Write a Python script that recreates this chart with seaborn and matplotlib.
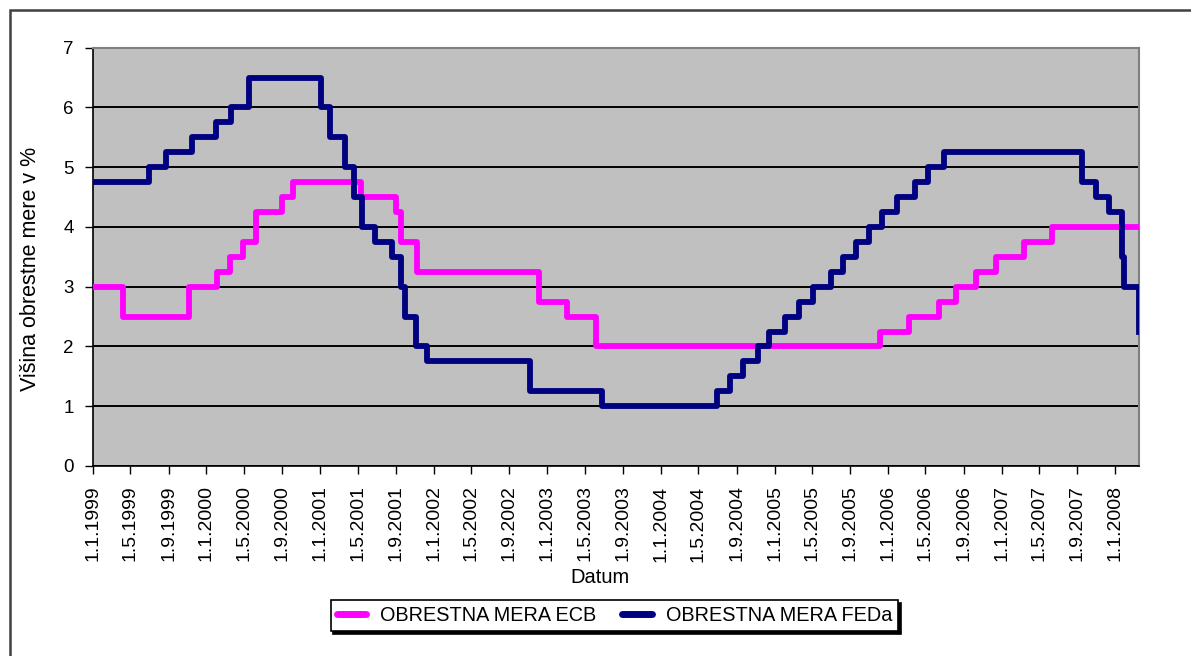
import matplotlib
matplotlib.use("Agg")
import matplotlib.pyplot as plt
from matplotlib.patches import Rectangle
import pandas as pd
import seaborn as sns

# ECB main refinancing rate (date of change, new rate in %)
ecb_dates = ["1999-01-01", "1999-04-09", "1999-11-05", "2000-02-04", "2000-03-17",
             "2000-04-28", "2000-06-09", "2000-09-01", "2000-10-06", "2001-05-11",
             "2001-08-31", "2001-09-18", "2001-11-09", "2002-12-06", "2003-03-07",
             "2003-06-06", "2005-12-06", "2006-03-08", "2006-06-15", "2006-08-09",
             "2006-10-11", "2006-12-13", "2007-03-14", "2007-06-13"]
ecb_rates = [3.00, 2.50, 3.00, 3.25, 3.50,
             3.75, 4.25, 4.50, 4.75, 4.50,
             4.25, 3.75, 3.25, 2.75, 2.50,
             2.00, 2.25, 2.50, 2.75, 3.00,
             3.25, 3.50, 3.75, 4.00]

# Federal funds target rate (date of change, new rate in %)
fed_dates = ["1999-01-01", "1999-06-30", "1999-08-24", "1999-11-16", "2000-02-02",
             "2000-03-21", "2000-05-16", "2001-01-03", "2001-01-31", "2001-03-20",
             "2001-04-18", "2001-05-15", "2001-06-27", "2001-08-21", "2001-09-17",
             "2001-10-02", "2001-11-06", "2001-12-11", "2002-11-06", "2003-06-25",
             "2004-06-30", "2004-08-10", "2004-09-21", "2004-11-10", "2004-12-14",
             "2005-02-02", "2005-03-22", "2005-05-03", "2005-06-30", "2005-08-09",
             "2005-09-20", "2005-11-01", "2005-12-13", "2006-01-31", "2006-03-28",
             "2006-05-10", "2006-06-29", "2007-09-18", "2007-10-31", "2007-12-11",
             "2008-01-22", "2008-01-30", "2008-03-18"]
fed_rates = [4.75, 5.00, 5.25, 5.50, 5.75,
             6.00, 6.50, 6.00, 5.50, 5.00,
             4.50, 4.00, 3.75, 3.50, 3.00,
             2.50, 2.00, 1.75, 1.25, 1.00,
             1.25, 1.50, 1.75, 2.00, 2.25,
             2.50, 2.75, 3.00, 3.25, 3.50,
             3.75, 4.00, 4.25, 4.50, 4.75,
             5.00, 5.25, 4.75, 4.50, 4.25,
             3.50, 3.00, 2.25]

start_date = "1999-01-01"
end_date = "2008-03-18"

ecb_label = "OBRESTNA MERA ECB"
fed_label = "OBRESTNA MERA FEDa"
x_title = "Datum"
y_title = "Višina obrestne mere v %"
y_ticks = [0, 1, 2, 3, 4, 5, 6, 7]

tick_dates = pd.date_range("1999-01-01", "2008-01-01", freq="4MS")
tick_labels = [f"{d.day}.{d.month}.{d.year}" for d in tick_dates]

# ECB rate is unchanged until the end of the period
ecb = pd.DataFrame({"datum": pd.to_datetime(ecb_dates + [end_date]),
                    "rate": ecb_rates + [ecb_rates[-1]],
                    "serija": ecb_label})
fed = pd.DataFrame({"datum": pd.to_datetime(fed_dates),
                    "rate": fed_rates,
                    "serija": fed_label})
df = pd.concat([ecb, fed], ignore_index=True)

plt.rcParams["font.family"] = ["Liberation Sans", "DejaVu Sans"]

W, H = 1191, 656
fig = plt.figure(figsize=(W / 100, H / 100), dpi=100)
ax = fig.add_axes([93 / W, 1 - 466 / H, (1139 - 93) / W, (466 - 47.7) / H])
ax.set_facecolor("#C0C0C0")

sns.lineplot(data=df, x="datum", y="rate", hue="serija",
             palette={ecb_label: "#FF00FF", fed_label: "#000080"},
             hue_order=[ecb_label, fed_label],
             drawstyle="steps-post", linewidth=4.2, estimator=None,
             sort=True, legend=False, ax=ax, zorder=3)

ax.set_xlim(pd.Timestamp(start_date), pd.Timestamp(end_date))
ax.set_ylim(0, 7)
ax.set_yticks(y_ticks)
ax.set_xticks(tick_dates)
ax.set_xticklabels(tick_labels, rotation=90, fontsize=14)
ax.tick_params(axis="y", labelsize=13.5)
ax.tick_params(direction="out", length=6, width=1, color="black", pad=8)

ax.grid(axis="y", color="black", linewidth=1.4, zorder=1)
ax.grid(axis="x", visible=False)
ax.set_axisbelow(True)

for side in ("top", "right"):
    ax.spines[side].set_color("#808080")
    ax.spines[side].set_linewidth(1.5)
for side in ("left", "bottom"):
    ax.spines[side].set_color("black")
    ax.spines[side].set_linewidth(1.2)

ax.set_xlabel(x_title, fontsize=14.5)
ax.set_ylabel(y_title, fontsize=15.5)
ax.xaxis.set_label_coords(0.485, -0.243)
ax.yaxis.set_label_coords(-0.050, 0.47)

lines = ax.get_lines()[:2]
leg = ax.legend(lines, [ecb_label, fed_label], ncol=2, loc="center",
                bbox_to_anchor=(614.5 / W, 1 - 615.5 / H),
                bbox_transform=fig.transFigure, fontsize=14.3,
                frameon=True, fancybox=False, shadow={"color": "black", "alpha": 1},
                handlelength=1.5, handletextpad=0.7, columnspacing=1.3,
                borderpad=0.3, borderaxespad=0)
leg.get_frame().set_edgecolor("black")
leg.get_frame().set_linewidth(1.2)
for h in leg.get_lines():
    h.set_linewidth(5)
    h.set_solid_capstyle("round")

# chart area frame
fig.add_artist(Rectangle((10 / W, -0.2), 2.0, 1.2 - 10 / H,
                         transform=fig.transFigure, fill=False,
                         edgecolor="#404040", linewidth=1.8))

fig.savefig("out.png", dpi=100, facecolor="white")
